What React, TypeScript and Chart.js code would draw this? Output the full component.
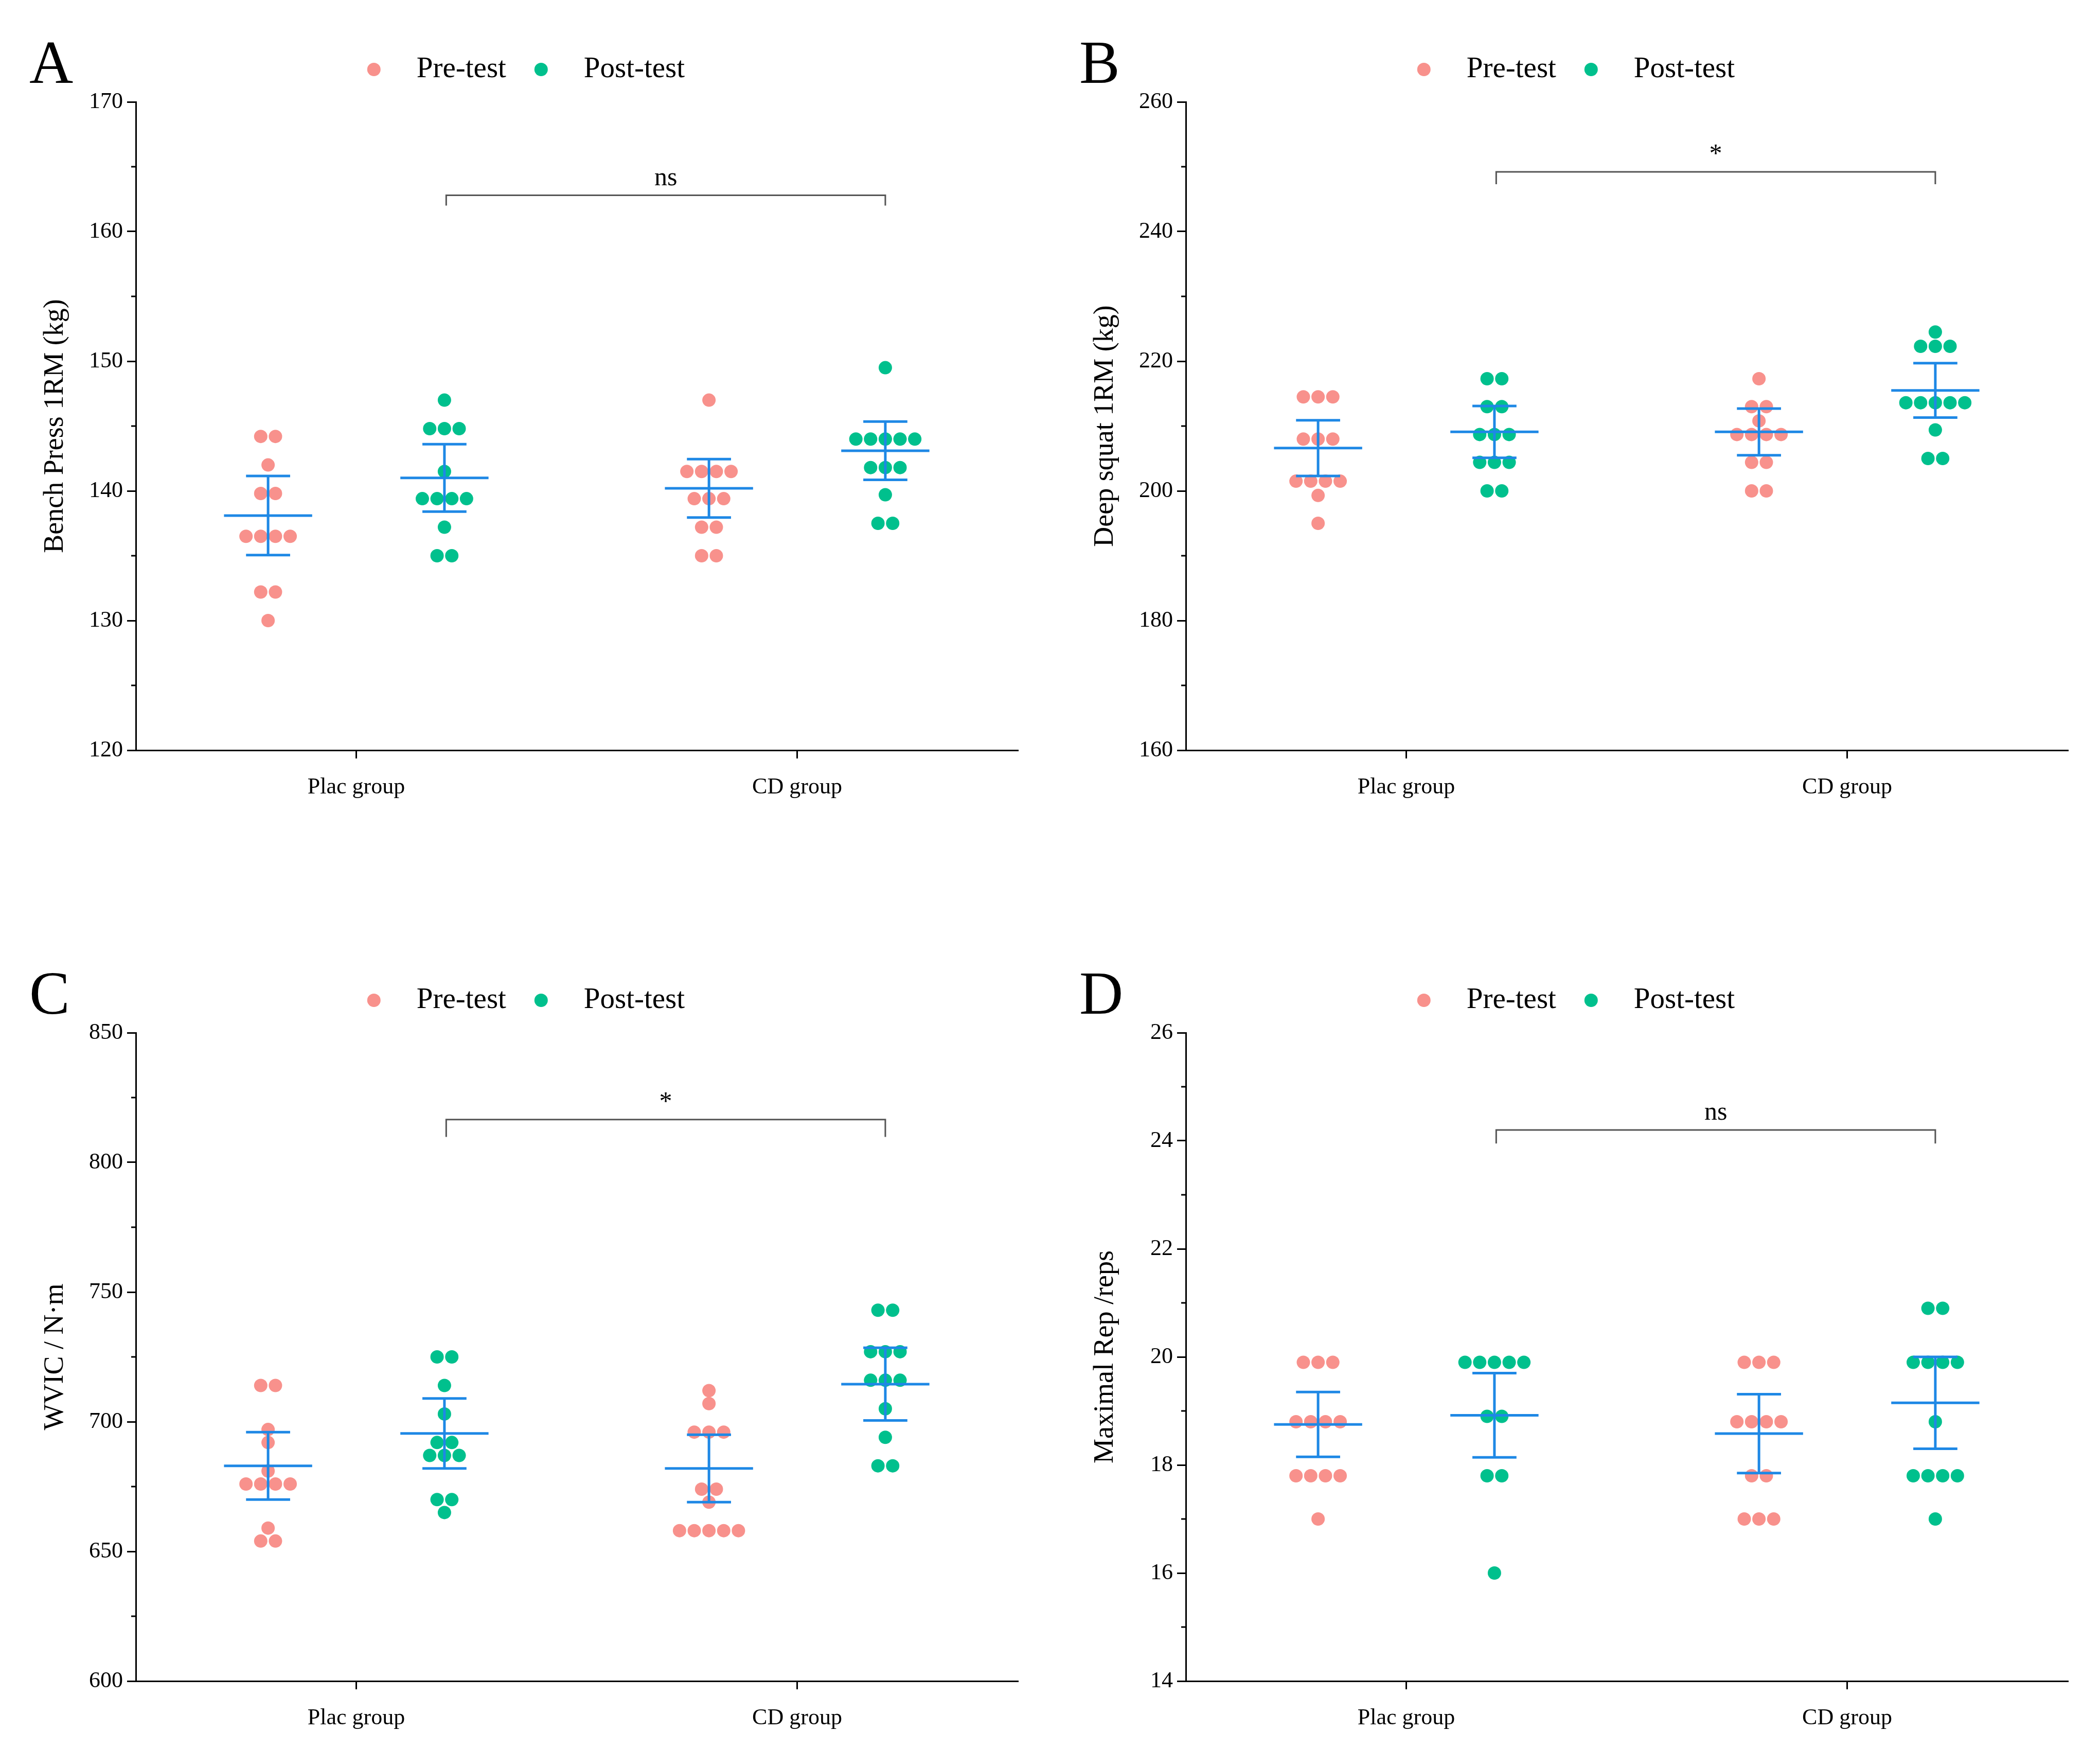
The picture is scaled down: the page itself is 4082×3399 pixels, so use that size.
import React, { useEffect, useRef } from "react";
import { Chart, registerables } from "chart.js";
Chart.register(...registerables);

const groups = ["Plac group", "CD group"];
const PRE = "#F8918C";
const POST = "#00C08D";
const BAR = "#1E88E5";

// Panel A
const aPlacPre = [144.2, 144.2, 142, 139.8, 139.8, 136.5, 136.5, 136.5, 136.5, 132.2, 132.2, 130];
const aPlacPost = [147, 144.8, 144.8, 144.8, 141.5, 139.4, 139.4, 139.4, 139.4, 137.2, 135, 135];
const aCdPre = [147, 141.5, 141.5, 141.5, 141.5, 139.4, 139.4, 139.4, 137.2, 137.2, 135, 135];
const aCdPost = [149.5, 144, 144, 144, 144, 144, 141.8, 141.8, 141.8, 139.7, 137.5, 137.5];
const aMean = [138.1, 141.0, 140.2, 143.1];
const aSem = [3.05, 2.6, 2.25, 2.25];
// Panel B
const bPlacPre = [214.5, 214.5, 214.5, 208, 208, 208, 201.5, 201.5, 201.5, 201.5, 199.3, 195];
const bPlacPost = [217.3, 217.3, 213, 213, 208.7, 208.7, 208.7, 204.4, 204.4, 204.4, 200, 200];
const bCdPre = [217.3, 213, 213, 210.8, 208.7, 208.7, 208.7, 208.7, 204.4, 204.4, 200, 200];
const bCdPost = [224.5, 222.3, 222.3, 222.3, 213.6, 213.6, 213.6, 213.6, 213.6, 209.4, 205, 205];
const bMean = [206.6, 209.1, 209.1, 215.5];
const bSem = [4.3, 4.0, 3.6, 4.2];
// Panel C
const cPlacPre = [714, 714, 697, 692, 681, 676, 676, 676, 676, 659, 654, 654];
const cPlacPost = [725, 725, 714, 703, 692, 692, 687, 687, 687, 670, 670, 665];
const cCdPre = [712, 707, 696, 696, 696, 674, 674, 669, 658, 658, 658, 658, 658];
const cCdPost = [743, 743, 727, 727, 727, 716, 716, 716, 705, 694, 683, 683];
const cMean = [683, 695.5, 682, 714.5];
const cSem = [13, 13.5, 13, 14];
// Panel D
const dPlacPre = [19.9, 19.9, 19.9, 18.8, 18.8, 18.8, 18.8, 17.8, 17.8, 17.8, 17.8, 17];
const dPlacPost = [19.9, 19.9, 19.9, 19.9, 19.9, 18.9, 18.9, 17.8, 17.8, 16];
const dCdPre = [19.9, 19.9, 19.9, 18.8, 18.8, 18.8, 18.8, 17.8, 17.8, 17, 17, 17];
const dCdPost = [20.9, 20.9, 19.9, 19.9, 19.9, 19.9, 18.8, 17.8, 17.8, 17.8, 17.8, 17];
const dMean = [18.75, 18.92, 18.58, 19.15];
const dSem = [0.6, 0.78, 0.73, 0.85];

const panels = [
  { letter: "A", title: "Bench Press 1RM (kg)", min: 120, max: 170, step: 10, minor: 5, data: [aPlacPre, aPlacPost, aCdPre, aCdPost], mean: aMean, sem: aSem, sig: "ns", br: [162.8, 162.0] },
  { letter: "B", title: "Deep squat 1RM (kg)", min: 160, max: 260, step: 20, minor: 10, data: [bPlacPre, bPlacPost, bCdPre, bCdPost], mean: bMean, sem: bSem, sig: "*", br: [249.2, 247.3] },
  { letter: "C", title: "WVIC / N·m", min: 600, max: 850, step: 50, minor: 25, data: [cPlacPre, cPlacPost, cCdPre, cCdPost], mean: cMean, sem: cSem, sig: "*", br: [816.5, 809.8] },
  { letter: "D", title: "Maximal Rep /reps", min: 14, max: 26, step: 2, minor: 1, data: [dPlacPre, dPlacPost, dCdPre, dCdPost], mean: dMean, sem: dSem, sig: "ns", br: [24.2, 23.95] },
];

const XPOS = [0.15, 0.35, 0.65, 0.85];
const GROUP_X = [0.25, 0.75];
const SP = 0.0167;
const FONT = "'Liberation Serif', 'Times New Roman', serif";

function swarm(vals: number[], cx: number) {
  const counts: Record<string, number> = {};
  vals.forEach((v) => (counts[v] = (counts[v] || 0) + 1));
  const seen: Record<string, number> = {};
  return vals.map((v) => {
    const k = counts[v];
    const i = seen[v] || 0;
    seen[v] = i + 1;
    return { x: cx + (i - (k - 1) / 2) * SP, y: v };
  });
}

const W = 2041, H = 1590;
const LEFT = 264, TOP = 198, RIGHT = 63, BOTTOM = 132;

function Panel({ p, left, top }: any) {
  const ref = useRef<HTMLCanvasElement>(null);
  useEffect(() => {
    const over = {
      id: "over",
      afterDraw(chart: any) {
        const ctx = chart.ctx;
        const xs = chart.scales.x, ys = chart.scales.y;
        ctx.save();
        ctx.strokeStyle = BAR;
        ctx.lineWidth = 5;
        p.mean.forEach((m: number, i: number) => {
          const cx = xs.getPixelForValue(XPOS[i]);
          const hw = xs.getPixelForValue(XPOS[i] + 0.05) - cx;
          const cw = hw / 2;
          const ym = ys.getPixelForValue(m), yl = ys.getPixelForValue(m - p.sem[i]), yh = ys.getPixelForValue(m + p.sem[i]);
          ctx.beginPath();
          ctx.moveTo(cx - hw, ym); ctx.lineTo(cx + hw, ym);
          ctx.moveTo(cx - cw, yl); ctx.lineTo(cx + cw, yl);
          ctx.moveTo(cx - cw, yh); ctx.lineTo(cx + cw, yh);
          ctx.moveTo(cx, yl); ctx.lineTo(cx, yh);
          ctx.stroke();
        });
        const x1 = xs.getPixelForValue(0.352), x2 = xs.getPixelForValue(0.85);
        const yb = ys.getPixelForValue(p.br[0]), ye = ys.getPixelForValue(p.br[1]);
        ctx.strokeStyle = "#555";
        ctx.lineWidth = 3;
        ctx.beginPath();
        ctx.moveTo(x1, ye); ctx.lineTo(x1, yb); ctx.lineTo(x2, yb); ctx.lineTo(x2, ye);
        ctx.stroke();
        ctx.fillStyle = "#000";
        ctx.font = `50px ${FONT}`;
        ctx.textAlign = "center";
        ctx.textBaseline = "bottom";
        ctx.fillText(p.sig, (x1 + x2) / 2, yb - 8);
        ctx.strokeStyle = "#000";
        ctx.lineWidth = 3;
        for (let v = p.min + p.minor; v < p.max; v += p.step) {
          const y = ys.getPixelForValue(v);
          ctx.beginPath();
          ctx.moveTo(xs.left, y); ctx.lineTo(xs.left - 9, y);
          ctx.stroke();
        }
        ctx.font = `118px ${FONT}`;
        ctx.textAlign = "left";
        ctx.textBaseline = "alphabetic";
        ctx.fillText(p.letter, 57, 161);
        ctx.font = `57px ${FONT}`;
        ctx.textBaseline = "middle";
        const ly = 135;
        const cx0 = xs.left + (xs.right - xs.left) * 0.27;
        ctx.fillStyle = PRE;
        ctx.beginPath(); ctx.arc(cx0, ly, 13, 0, Math.PI * 2); ctx.fill();
        ctx.fillStyle = "#000";
        ctx.fillText("Pre-test", cx0 + 83, ly);
        const cx1 = cx0 + 325;
        ctx.fillStyle = POST;
        ctx.beginPath(); ctx.arc(cx1, ly, 13, 0, Math.PI * 2); ctx.fill();
        ctx.fillStyle = "#000";
        ctx.fillText("Post-test", cx1 + 83, ly);
        ctx.restore();
      },
    };
    const chart = new Chart(ref.current!, {
      type: "scatter",
      data: {
        datasets: [
          { label: "Pre-test", data: [...swarm(p.data[0], XPOS[0]), ...swarm(p.data[2], XPOS[2])], backgroundColor: PRE, borderWidth: 0, pointRadius: 13 },
          { label: "Post-test", data: [...swarm(p.data[1], XPOS[1]), ...swarm(p.data[3], XPOS[3])], backgroundColor: POST, borderWidth: 0, pointRadius: 13 },
        ],
      },
      options: {
        animation: false,
        responsive: false,
        devicePixelRatio: 1,
        layout: { padding: { top: TOP, right: RIGHT, left: 0, bottom: 0 } },
        plugins: { legend: { display: false }, tooltip: { enabled: false } },
        scales: {
          x: {
            min: 0, max: 1,
            afterFit: (s: any) => { s.height = BOTTOM; },
            afterBuildTicks: (s: any) => { s.ticks = GROUP_X.map((v) => ({ value: v })); },
            ticks: { callback: (v: any) => groups[GROUP_X.indexOf(v)] ?? "", font: { family: FONT, size: 44 }, color: "#000", maxRotation: 0, padding: 30 },
            grid: { drawOnChartArea: false, drawTicks: true, tickLength: 16, color: "#000", lineWidth: 3 },
            border: { color: "#000", width: 3 },
          },
          y: {
            min: p.min, max: p.max,
            afterFit: (s: any) => { s.width = LEFT; },
            ticks: { stepSize: p.step, font: { family: FONT, size: 44 }, color: "#000", padding: 8 },
            grid: { drawOnChartArea: false, drawTicks: true, tickLength: 17, color: "#000", lineWidth: 3 },
            border: { color: "#000", width: 3 },
            title: { display: true, text: p.title, font: { family: FONT, size: 54 }, color: "#000", padding: { top: 75, bottom: 0 } },
          },
        },
      },
      plugins: [over],
    });
    return () => chart.destroy();
  }, []);
  return <canvas ref={ref} width={W} height={H} style={{ position: "absolute", left, top, width: W, height: H }} />;
}

export default function App() {
  return (
    <div style={{ position: "absolute", left: 0, top: 0, width: 4082, height: 3399, background: "#fff" }}>
      <Panel p={panels[0]} left={0} top={0} />
      <Panel p={panels[1]} left={2041} top={0} />
      <Panel p={panels[2]} left={0} top={1809} />
      <Panel p={panels[3]} left={2041} top={1809} />
    </div>
  );
}
